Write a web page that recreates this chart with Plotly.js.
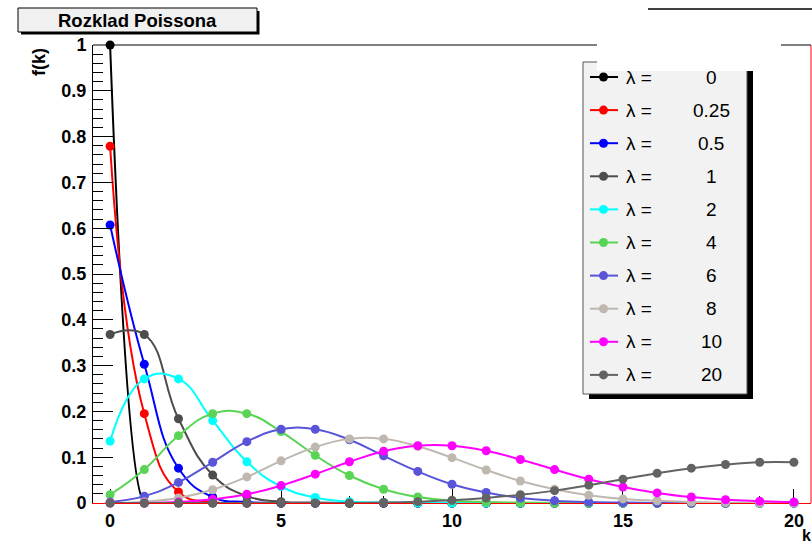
<!DOCTYPE html>
<html>
<head>
<meta charset="utf-8">
<script src="https://cdn.plot.ly/plotly-3.0.1.min.js"></script>
<style>
  html, body { margin: 0; padding: 0; background: #ffffff; }
  #chart { width: 812px; height: 545px; }
</style>
</head>
<body>
<div id="chart"></div>
<script>
// Poisson probabilities f(k) for k = 0..20, one array per lambda
const kValues = [0, 1, 2, 3, 4, 5, 6, 7, 8, 9, 10, 11, 12, 13, 14, 15, 16, 17, 18, 19, 20];

const fLambda0    = [1, 0, 0, 0, 0, 0, 0, 0, 0, 0, 0, 0, 0, 0, 0, 0, 0, 0, 0, 0, 0];
const fLambda025  = [0.779, 0.195, 0.024, 0.002, 0, 0, 0, 0, 0, 0, 0, 0, 0, 0, 0, 0, 0, 0, 0, 0, 0];
const fLambda05   = [0.607, 0.303, 0.076, 0.013, 0.002, 0, 0, 0, 0, 0, 0, 0, 0, 0, 0, 0, 0, 0, 0, 0, 0];
const fLambda1    = [0.368, 0.368, 0.184, 0.061, 0.015, 0.003, 0.001, 0, 0, 0, 0, 0, 0, 0, 0, 0, 0, 0, 0, 0, 0];
const fLambda2    = [0.135, 0.271, 0.271, 0.180, 0.090, 0.036, 0.012, 0.003, 0.001, 0, 0, 0, 0, 0, 0, 0, 0, 0, 0, 0, 0];
const fLambda4    = [0.018, 0.073, 0.147, 0.195, 0.195, 0.156, 0.104, 0.060, 0.030, 0.013, 0.005, 0.002, 0.001, 0, 0, 0, 0, 0, 0, 0, 0];
const fLambda6    = [0.002, 0.015, 0.045, 0.089, 0.134, 0.161, 0.161, 0.138, 0.103, 0.069, 0.041, 0.023, 0.011, 0.005, 0.002, 0.001, 0, 0, 0, 0, 0];
const fLambda8    = [0, 0.003, 0.011, 0.029, 0.057, 0.092, 0.122, 0.140, 0.140, 0.124, 0.099, 0.072, 0.048, 0.030, 0.017, 0.009, 0.005, 0.002, 0.001, 0, 0];
const fLambda10   = [0, 0, 0.002, 0.008, 0.019, 0.038, 0.063, 0.090, 0.113, 0.125, 0.125, 0.114, 0.095, 0.073, 0.052, 0.035, 0.022, 0.013, 0.007, 0.004, 0.002];
const fLambda20   = [0, 0, 0, 0, 0, 0, 0, 0, 0.001, 0.003, 0.006, 0.011, 0.018, 0.027, 0.039, 0.052, 0.065, 0.076, 0.084, 0.089, 0.089];

const lambdaLabels = ['0', '0.25', '0.5', '1', '2', '4', '6', '8', '10', '20'];
const seriesValues = [fLambda0, fLambda025, fLambda05, fLambda1, fLambda2, fLambda4, fLambda6, fLambda8, fLambda10, fLambda20];
const seriesColors = ['#000000', '#ff0000', '#0000ff', '#4d4d4d', '#00ffff', '#59d454', '#5954d8', '#bfb8b0', '#ff00ff', '#636363'];
// curve smoothing per series (the step-like lambda = 0 curve is kept stiffer)
const seriesSmoothing = [0.5, 1.3, 1.3, 1.3, 1.3, 1.3, 1.3, 1.3, 1.3, 1.3];

const yTickValues = [0, 0.1, 0.2, 0.3, 0.4, 0.5, 0.6, 0.7, 0.8, 0.9, 1];
const yTickLabels = ['0', '0.1', '0.2', '0.3', '0.4', '0.5', '0.6', '0.7', '0.8', '0.9', '1'];
const xTickValues = [0, 5, 10, 15, 20];
const xTickLabels = ['0', '5', '10', '15', '20'];

// page geometry
const W = 812, H = 545;
const M = { l: 93, r: 1, t: 45, b: 42 };
const plotW = W - M.l - M.r;
const plotH = H - M.t - M.b;
// pixel -> paper coordinates
const px = x => (x - M.l) / plotW;
const py = y => (H - M.b - y) / plotH;

const boldFont = { family: 'Liberation Sans, Arial, sans-serif', size: 18, color: '#000000', weight: 'bold' };
const plainFont = { family: 'Liberation Sans, Arial, sans-serif', size: 19, color: '#000000' };

// curves (clipped to the frame) then markers (unclipped), series by series
const traces = [];
seriesValues.forEach((vals, i) => {
  traces.push({
    x: kValues, y: vals, type: 'scatter', mode: 'lines',
    line: { color: seriesColors[i], width: 2, shape: 'spline', smoothing: seriesSmoothing[i] },
    cliponaxis: true, showlegend: false, hoverinfo: 'skip'
  });
  traces.push({
    x: kValues, y: vals, type: 'scatter', mode: 'markers',
    name: '\u03bb = ' + lambdaLabels[i],
    marker: { color: seriesColors[i], size: 9, line: { width: 0 } },
    cliponaxis: false, showlegend: false
  });
});

const shapes = [];
const annotations = [];

// title pave with shadow
shapes.push({ type: 'rect', xref: 'paper', yref: 'paper', x0: px(21), x1: px(259.5), y0: py(11), y1: py(34.5),
  fillcolor: '#000000', line: { width: 0 }, layer: 'above' });
shapes.push({ type: 'rect', xref: 'paper', yref: 'paper', x0: px(18), x1: px(257), y0: py(8), y1: py(32),
  fillcolor: '#f0f0f0', line: { color: '#000000', width: 1 }, layer: 'above' });
annotations.push({ xref: 'paper', yref: 'paper', x: px(137), y: py(20.5), xanchor: 'center', yanchor: 'middle',
  text: 'Rozklad Poissona', showarrow: false, font: Object.assign({}, boldFont, { size: 18.5 }) });

// frame: top edge black, right edge red
shapes.push({ type: 'line', xref: 'paper', yref: 'paper', x0: 0, x1: 1, y0: 1, y1: 1,
  line: { color: '#000000', width: 1 }, layer: 'above' });
shapes.push({ type: 'line', xref: 'paper', yref: 'paper', x0: 1, x1: 1, y0: 0, y1: 1,
  line: { color: '#ff0000', width: 1 }, layer: 'above' });
// line above the frame at the top right
shapes.push({ type: 'line', xref: 'paper', yref: 'paper', x0: px(648), x1: px(812), y0: py(9), y1: py(9),
  line: { color: '#000000', width: 1.5 }, layer: 'above' });

// legend box with shadow
const legL = 583, legR = 747, legT = 62, legB = 394;
shapes.push({ type: 'rect', xref: 'paper', yref: 'paper', x0: px(legL + 6), x1: px(legR + 6), y0: py(legT + 6), y1: py(legB + 5),
  fillcolor: '#000000', line: { width: 0 }, layer: 'above' });
shapes.push({ type: 'rect', xref: 'paper', yref: 'paper', x0: px(legL), x1: px(legR), y0: py(legT), y1: py(legB),
  fillcolor: '#f2f2f2', line: { color: '#555555', width: 1 }, layer: 'above' });
const rowY0 = 77, rowStep = 33.1;
lambdaLabels.forEach((lab, i) => {
  const yc = rowY0 + rowStep * i;
  shapes.push({ type: 'line', xref: 'paper', yref: 'paper', x0: px(590), x1: px(618), y0: py(yc), y1: py(yc),
    line: { color: seriesColors[i], width: 2 }, layer: 'above' });
  shapes.push({ type: 'circle', xref: 'paper', yref: 'paper', x0: px(599), x1: px(608), y0: py(yc - 4.5), y1: py(yc + 4.5),
    fillcolor: seriesColors[i], line: { width: 0 }, layer: 'above' });
  annotations.push({ xref: 'paper', yref: 'paper', x: px(624), y: py(yc), xanchor: 'left', yanchor: 'middle',
    text: '\u03bb =', showarrow: false, font: plainFont });
  annotations.push({ xref: 'paper', yref: 'paper', x: px(711), y: py(yc), xanchor: 'center', yanchor: 'middle',
    text: lab, showarrow: false, font: plainFont });
});

// axis titles
annotations.push({ xref: 'paper', yref: 'paper', x: px(39), y: py(62), xanchor: 'center', yanchor: 'middle',
  text: 'f(k)', textangle: -90, showarrow: false, font: boldFont });
annotations.push({ xref: 'paper', yref: 'paper', x: px(812), y: py(545), xanchor: 'right', yanchor: 'bottom',
  text: 'k', showarrow: false, borderpad: 0, font: Object.assign({}, boldFont, { size: 16 }) });

// blank patch over the top of the frame and legend
annotations.push({ xref: 'paper', yref: 'paper', x: px(597), y: py(43), xanchor: 'left', yanchor: 'top',
  text: ' ', width: 184, height: 28, bgcolor: '#ffffff', borderpad: 0, borderwidth: 0, showarrow: false,
  font: { size: 10, color: '#ffffff' } });

const layout = {
  width: W, height: H,
  margin: M,
  paper_bgcolor: '#ffffff',
  plot_bgcolor: '#ffffff',
  showlegend: false,
  xaxis: {
    range: [-0.5, 20.5], showgrid: false, zeroline: false,
    showline: true, linecolor: '#ff0000', linewidth: 1, layer: 'below traces',
    tickmode: 'array', tickvals: xTickValues, ticktext: xTickLabels,
    ticks: 'inside', ticklen: 14, tickwidth: 1, tickcolor: '#000000',
    minor: { ticks: 'inside', dtick: 1, tick0: 0, ticklen: 7, tickwidth: 1, tickcolor: '#000000' },
    tickfont: boldFont, ticklabelstandoff: 1
  },
  yaxis: {
    range: [0, 1], showgrid: false, zeroline: false,
    showline: true, linecolor: '#000000', linewidth: 1,
    tickmode: 'array', tickvals: yTickValues, ticktext: yTickLabels,
    ticks: 'inside', ticklen: 20, tickwidth: 1, tickcolor: '#000000',
    minor: { ticks: 'inside', dtick: 0.02, tick0: 0, ticklen: 10, tickwidth: 1, tickcolor: '#000000' },
    tickfont: boldFont, ticklabelstandoff: 2
  },
  shapes: shapes,
  annotations: annotations
};

Plotly.newPlot('chart', traces, layout, { displayModeBar: false, staticPlot: true });
</script>
</body>
</html>
